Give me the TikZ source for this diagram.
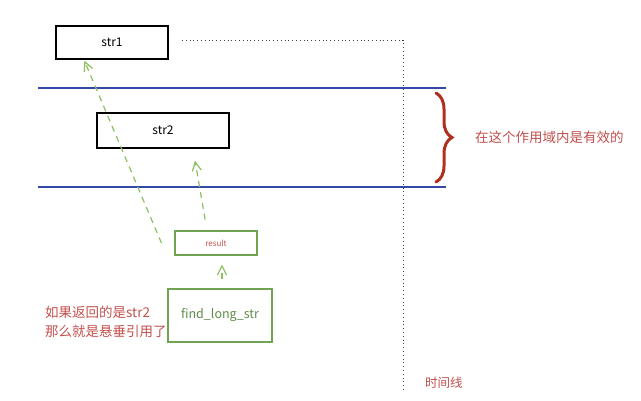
\documentclass[tikz,border=0pt]{standalone}
\usepackage{fontspec}
\setmainfont{Noto Sans CJK SC}
\usetikzlibrary{arrows.meta,decorations.pathreplacing}
\definecolor{bluel}{HTML}{3448A8}
\definecolor{redt}{HTML}{C0504D}
\definecolor{braceR}{HTML}{B0301F}
\definecolor{greenb}{HTML}{6FA552}
\definecolor{greena}{HTML}{8CBF5E}
\tikzset{
  blackbox/.style={draw=black, line width=1.5pt, minimum width=#1, inner sep=0pt, font=\fontsize{12}{14}\selectfont},
  greenbox/.style={draw=greenb, line width=1.1pt, inner sep=0pt},
  garrow/.style={draw=greena, line width=1.2pt, dash pattern=on 6pt off 5pt, -{Straight Barb[length=9pt,width=9pt,line width=1.2pt]}},
  redtext/.style={text=redt, font=\fontsize{13.5}{19}\selectfont, inner sep=0pt},
  scopeline/.style={draw=bluel, line width=2pt},
  timeline/.style={draw=black!75, line width=1pt, dash pattern=on 1pt off 2.8pt}
}
\begin{document}
\begin{tikzpicture}[x=1pt,y=-1pt]
\useasboundingbox (0,0) rectangle (641,400);
% time line
\coordinate (t0) at (182,40);
\coordinate (t1) at (403,40);
\coordinate (t2) at (403,392);
\draw[timeline] (t0) -- (t1) -- (t2);
% scope lines
\draw[scopeline] (38,88) -- (446,88);
\draw[scopeline] (38,187) -- (446,187);
% boxes
\node[blackbox=112pt, minimum height=33pt] (str1) at (112,42.5) {str1};
\node[blackbox=132pt, minimum height=35pt] (str2) at (163,130.5) {str2};
\node[greenbox, minimum width=82pt, minimum height=24pt, text=redt, font=\fontsize{8}{10}\selectfont] (result) at (216,243) {result};
\node[greenbox, minimum width=104pt, minimum height=53pt, text=greenb!85!black, font=\fontsize{12.5}{14}\selectfont] (find) at (220,315.5) {find\_long\_str};
% arrows
\draw[garrow, shorten <=9pt, shorten >=9pt] ([xshift=2pt]find.north) -- ([xshift=6pt]result.south);
\draw[garrow, shorten <=11pt, shorten >=12pt] ([xshift=-9pt]result.north) -- ([xshift=30pt]str2.south);
\draw[garrow, shorten >=1pt] ([xshift=-13pt]result.west) -- ([xshift=-28pt]str1.south);
% brace
\coordinate (b0) at (436,93);
\coordinate (b1) at (436,182);
\draw[braceR, line width=3pt, line cap=round, decorate, decoration={brace, amplitude=16pt}] (b0) -- (b1);
% texts
\node[redtext, anchor=west] (scope) at (475,137) {在这个作用域内是有效的};
\node[redtext, anchor=west, align=left] (dangle) at (45,321.5) {如果返回的是str2\\那么就是悬垂引用了};
\node[redtext, anchor=west, font=\fontsize{12.5}{15}\selectfont] (tl) at (425,383) {时间线};
\end{tikzpicture}
\end{document}
